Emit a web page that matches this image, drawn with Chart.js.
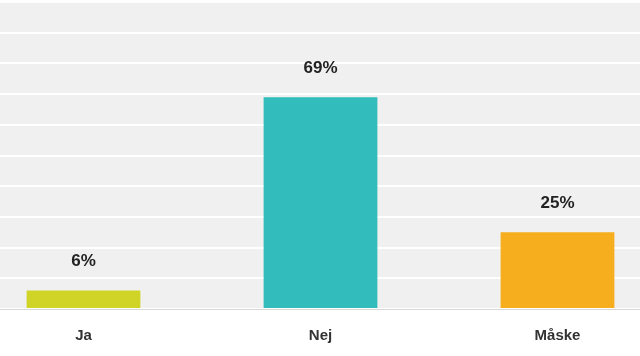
<!DOCTYPE html>
<html>
<head>
<meta charset="utf-8">
<script src="https://cdn.jsdelivr.net/npm/chart.js@4"></script>
<style>
  html, body { margin: 0; padding: 0; background: #fff; overflow: hidden; }
  #wrap { position: absolute; left: -35px; top: 0; width: 711px; height: 363px; }
</style>
</head>
<body>
<div id="wrap"><canvas id="myChart"></canvas></div>
<script>
const categories = ['Ja', 'Nej', 'Måske'];
const percents = [6, 69, 25];
const barColors = ['#cfd426', '#33bcbc', '#f6ae1e'];
const yTicks = [0, 10, 20, 30, 40, 50, 60, 70, 80, 90, 100];

// grey plot background
const plotBg = {
    id: 'plotBg',
    beforeDraw(chart) {
        const { ctx, chartArea: a } = chart;
        ctx.save();
        ctx.fillStyle = '#f0f0f0';
        ctx.fillRect(a.left, a.top, a.right - a.left, a.bottom - a.top);
        ctx.restore();
    }
};

// percentage labels over each bar
const valueLabels = {
    id: 'valueLabels',
    afterDatasetsDraw(chart) {
        const ctx = chart.ctx;
        const meta = chart.getDatasetMeta(0);
        ctx.save();
        ctx.font = 'bold 17px "Liberation Sans", Arial, sans-serif';
        ctx.fillStyle = '#222';
        ctx.textAlign = 'center';
        ctx.textBaseline = 'middle';
        meta.data.forEach((bar, i) => {
            ctx.fillText(percents[i] + '%', bar.x, bar.y - 29);
        });
        ctx.restore();
    }
};

new Chart(document.getElementById('myChart'), {
    type: 'bar',
    data: {
        labels: categories,
        datasets: [{
            data: percents,
            backgroundColor: barColors,
            borderWidth: 0,
            categoryPercentage: 1,
            barPercentage: 0.48
        }]
    },
    options: {
        responsive: true,
        maintainAspectRatio: false,
        animation: false,
        layout: { padding: { top: 2, bottom: 0, left: 0, right: 0 } },
        plugins: { legend: { display: false }, tooltip: { enabled: false } },
        scales: {
            x: {
                grid: { display: false, drawTicks: false },
                border: { display: true, color: '#d8d8d8', width: 1 },
                ticks: {
                    padding: 18,
                    color: '#333',
                    font: { family: '"Liberation Sans", Arial, sans-serif', size: 15, weight: 'bold' }
                }
            },
            y: {
                min: 0,
                max: 100,
                afterBuildTicks(axis) {
                    axis.ticks = yTicks.map(v => ({ value: v }));
                },
                ticks: { display: false },
                grid: { color: '#ffffff', lineWidth: 2, drawTicks: false },
                border: { display: false }
            }
        }
    },
    plugins: [plotBg, valueLabels]
});
</script>
</body>
</html>
